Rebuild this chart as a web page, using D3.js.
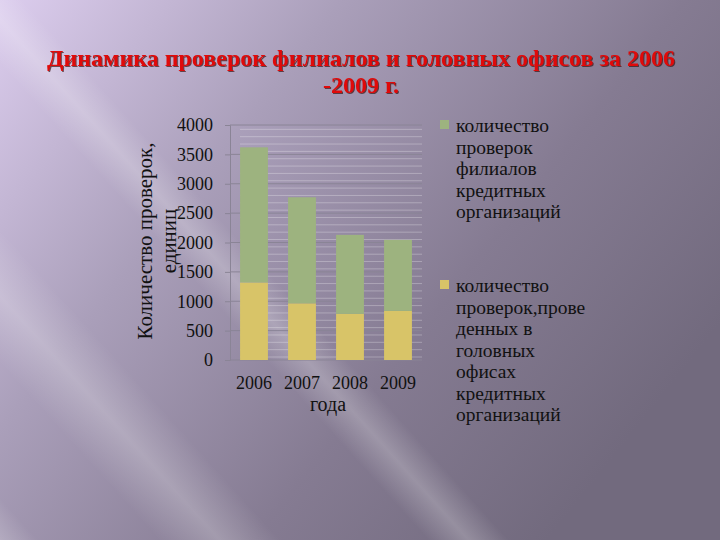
<!DOCTYPE html>
<html>
<head>
<meta charset="utf-8">
<script src="https://cdn.jsdelivr.net/npm/d3@7"></script>
<style>
  body { margin: 0; padding: 0; overflow: hidden; }
  svg { display: block; }
</style>
</head>
<body>
<svg id="plot"></svg>
<script>
// Data
var years = ['2006', '2007', '2008', '2009'];
var headOffices = [1320, 965, 785, 835];     // yellow, bottom
var branches = [2300, 1805, 1345, 1210];     // green, top
var yTicks = [0, 500, 1000, 1500, 2000, 2500, 3000, 3500, 4000];
var seriesNames = ['branches', 'headOffices'];
var legendLines = [
  ['количество', 'проверок', 'филиалов', 'кредитных', 'организаций'],
  ['количество', 'проверок,прове', 'денных в', 'головных', 'офисах', 'кредитных', 'организаций']
];
var titleLines = ['Динамика проверок филиалов и головных офисов за 2006', '-2009 г.'];

var colors = { branches: '#9db37f', headOffices: '#d8c468' };
var serif = '"Liberation Serif", "Times New Roman", serif';

var W = 720, H = 540;
var svg = d3.select('#plot').attr('width', W).attr('height', H);

// Background: slide gradient with soft diagonal light streaks
var defs = svg.append('defs');
var bg = defs.append('linearGradient').attr('id', 'bg')
  .attr('x1', '0').attr('y1', '0').attr('x2', '1').attr('y2', '0.6');
bg.append('stop').attr('offset', '0').attr('stop-color', '#dccdee');
bg.append('stop').attr('offset', '0.35').attr('stop-color', '#aa9fba');
bg.append('stop').attr('offset', '0.7').attr('stop-color', '#857b92');
bg.append('stop').attr('offset', '1').attr('stop-color', '#726a7e');
svg.append('rect').attr('width', W).attr('height', H).attr('fill', 'url(#bg)');

var streak = defs.append('linearGradient').attr('id', 'streak')
  .attr('x1', '0').attr('y1', '0').attr('x2', '1').attr('y2', '0');
streak.append('stop').attr('offset', '0').attr('stop-color', '#fff').attr('stop-opacity', 0);
streak.append('stop').attr('offset', '0.5').attr('stop-color', '#fff').attr('stop-opacity', 0.22);
streak.append('stop').attr('offset', '1').attr('stop-color', '#fff').attr('stop-opacity', 0);

[[-120, 60], [30, 90], [230, 60], [-260, 50]].forEach(function(s) {
  svg.append('rect')
    .attr('x', s[0]).attr('y', -200)
    .attr('width', s[1]).attr('height', 1100)
    .attr('fill', 'url(#streak)')
    .attr('transform', 'rotate(-42,' + (W / 2) + ',' + (H / 2) + ')');
});

// Title
var title = svg.append('text')
  .attr('text-anchor', 'middle')
  .style('font-family', serif)
  .style('font-weight', 'bold')
  .style('font-size', '24px')
  .attr('fill', '#e00a0a')
  .style('filter', 'drop-shadow(1px 1px 0.5px rgba(60,20,20,0.7))');
titleLines.forEach(function(t, i) {
  title.append('tspan').attr('x', 361).attr('y', 66 + i * 27).text(t);
});

// Chart area
var margin = { top: 125, left: 230, right: 422, bottom: 360 };

var x = d3.scaleBand()
  .domain(years)
  .range([margin.left, margin.right])
  .paddingInner(0.42)
  .paddingOuter(0.21);

var y = d3.scaleLinear()
  .domain([0, 4000])
  .range([margin.bottom, margin.top]);

// Decorative thin stripes in the plot area
var stripes = d3.range(0, 4000, 125);
svg.append('g').selectAll('line')
  .data(stripes)
  .enter().append('line')
    .attr('x1', margin.left + 10)
    .attr('x2', margin.right)
    .attr('y1', function(d) { return y(d) - 3; })
    .attr('y2', function(d) { return y(d) - 3; })
    .attr('stroke', '#ffffff')
    .attr('stroke-opacity', 0.28)
    .attr('stroke-width', 1);

// Gridlines
svg.append('g').selectAll('line')
  .data(yTicks)
  .enter().append('line')
    .attr('x1', margin.left)
    .attr('x2', margin.right)
    .attr('y1', function(d) { return y(d); })
    .attr('y2', function(d) { return y(d); })
    .attr('stroke', '#8a8496')
    .attr('stroke-width', 1);

// Stacked bars
var rows = years.map(function(yr, i) {
  return { year: yr, headOffices: headOffices[i], branches: branches[i] };
});
var stack = d3.stack().keys(['headOffices', 'branches'])(rows);

svg.append('g').selectAll('g')
  .data(stack)
  .enter().append('g')
    .attr('fill', function(d) { return colors[d.key]; })
  .selectAll('rect')
  .data(function(d) { return d; })
  .enter().append('rect')
    .attr('x', function(d) { return x(d.data.year); })
    .attr('y', function(d) { return y(d[1]); })
    .attr('width', x.bandwidth())
    .attr('height', function(d) { return y(d[0]) - y(d[1]); });

// Y axis
var yAxis = svg.append('g')
  .attr('transform', 'translate(' + margin.left + ',0)')
  .call(d3.axisLeft(y).tickValues(yTicks).tickSize(5).tickPadding(12).tickFormat(d3.format('d')));
yAxis.select('.domain').attr('stroke', '#8a8496');
yAxis.selectAll('.tick line').attr('stroke', '#8a8496');
yAxis.selectAll('text')
  .style('font-family', serif)
  .style('font-size', '18px')
  .attr('fill', '#111');

// X axis
var xAxis = svg.append('g')
  .attr('transform', 'translate(0,' + margin.bottom + ')')
  .call(d3.axisBottom(x).tickSize(0).tickPadding(16));
xAxis.select('.domain').remove();
xAxis.selectAll('text')
  .style('font-family', serif)
  .style('font-size', '18px')
  .attr('fill', '#111');

// X axis label
svg.append('text')
  .attr('x', (margin.left + margin.right) / 2 + 2)
  .attr('y', 411)
  .attr('text-anchor', 'middle')
  .style('font-family', serif)
  .style('font-size', '20px')
  .attr('fill', '#111')
  .text('года');

// Y axis label
var yLab = svg.append('text')
  .attr('transform', 'translate(152,241) rotate(-90)')
  .attr('text-anchor', 'middle')
  .style('font-family', serif)
  .style('font-size', '21px')
  .attr('fill', '#111');
yLab.append('tspan').attr('x', 0).attr('y', 0).text('Количество проверок,');
yLab.append('tspan').attr('x', 0).attr('y', 24).text('единиц');

// Legend
var legendTop = [126, 286];
var legend = svg.selectAll('.legend')
  .data(seriesNames)
  .enter().append('g')
    .attr('class', 'legend')
    .attr('transform', function(d, i) { return 'translate(440,' + legendTop[i] + ')'; });

legend.append('rect')
  .attr('x', 0)
  .attr('y', -6)
  .attr('width', 9)
  .attr('height', 9)
  .attr('fill', function(d) { return colors[d]; });

legend.append('text')
  .style('font-family', serif)
  .style('font-size', '19.5px')
  .attr('fill', '#111')
  .selectAll('tspan')
  .data(function(d, i) { return legendLines[i]; })
  .enter().append('tspan')
    .attr('x', 16)
    .attr('y', function(d, j) { return 6 + j * 21.5; })
    .text(function(d) { return d; });
</script>
</body>
</html>
